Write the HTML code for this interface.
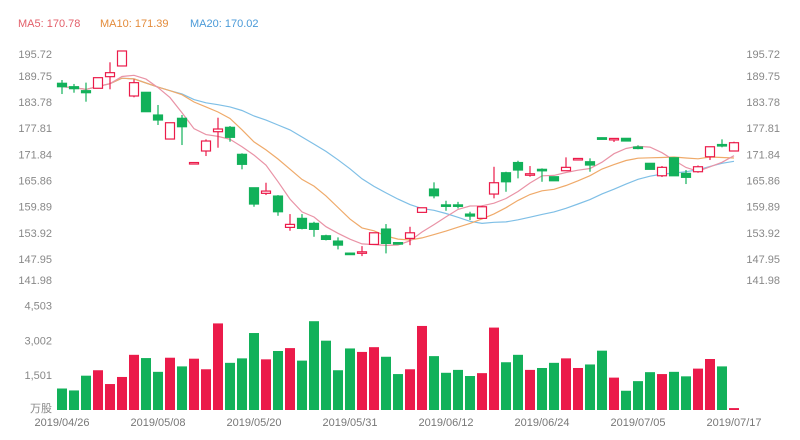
<!DOCTYPE html>
<html><head><meta charset="utf-8">
<style>
html,body{margin:0;padding:0;background:#fff;}
svg{display:block;font-family:"Liberation Sans","Noto Sans CJK SC",sans-serif;}
</style></head>
<body>
<svg id="chart" width="800" height="440" viewBox="0 0 800 440" xmlns="http://www.w3.org/2000/svg">
<g font-size="11">
<text x="18" y="27" fill="#e35f6a">MA5: 170.78</text>
<text x="100" y="27" fill="#e38b3a">MA10: 171.39</text>
<text x="190" y="27" fill="#4a9ad8">MA20: 170.02</text>
</g>
<g id="priceAxes"></g>
<g id="maLines"></g>
<g id="candles"></g>
<g id="volAxis"></g>
<g id="volBars"></g>
<g id="dateAxis"></g>
</svg>
<script>
const opens=[188.05,187.27,186.36,186.91,189.56,192.0,185.15,185.99,180.81,175.33,180.06,169.88,172.6,177.0,178.0,171.84,164.21,162.94,162.32,155.17,157.23,156.09,153.26,152.05,149.3,149.47,151.29,154.79,151.7,152.66,158.6,163.92,160.31,160.31,158.21,157.23,162.78,167.64,169.97,167.27,168.42,166.73,168.1,170.77,170.15,175.63,175.33,175.49,173.51,169.79,166.95,171.06,167.5,167.87,171.29,174.08,172.6];
const closes=[187.27,186.82,185.9,189.33,190.47,195.42,188.19,181.57,179.67,179.05,178.14,169.97,174.88,177.62,175.72,169.56,160.5,163.46,158.74,155.86,154.95,154.72,152.43,151.13,149.17,149.6,153.94,151.52,151.59,153.94,159.65,162.39,160.22,160.22,157.75,159.88,165.36,165.58,168.26,167.41,168.1,165.81,168.87,170.9,169.4,175.26,175.47,174.88,173.37,168.42,168.87,166.95,166.59,169.01,173.57,173.96,174.49];
const highs=[188.8,187.9,188.2,189.33,192.84,195.42,188.96,185.99,183.1,179.05,180.81,170.0,175.26,180.2,178.3,172.07,164.21,165.36,162.55,158.21,158.21,156.45,153.5,152.89,149.4,150.9,153.94,155.93,151.8,155.31,159.65,165.45,161.25,161.0,158.74,160.1,169.0,167.87,170.38,169.17,168.64,166.73,171.15,171.0,170.93,175.7,175.5,175.5,173.9,169.79,169.17,171.06,168.26,169.3,173.57,175.26,174.72];
const lows=[185.6,185.9,183.85,186.91,186.68,192.0,184.85,181.57,178.53,175.33,173.96,169.85,171.45,173.35,174.72,168.42,159.88,162.55,157.82,154.4,154.72,153.03,152.2,150.15,149.1,148.62,151.29,149.24,151.5,151.11,158.6,161.8,158.96,159.5,156.84,157.23,161.8,163.3,166.36,166.73,165.58,165.81,168.1,170.7,167.87,175.2,174.65,174.88,173.0,168.42,166.66,166.95,165.06,167.64,170.54,173.44,172.6];
const volumes=[927,844,1480,1715,1120,1425,2380,2240,1646,2255,1881,2213,1757,3735,2034,2227,3320,2185,2545,2670,2130,3830,2990,1715,2655,2505,2710,2296,1550,1757,3625,2324,1605,1730,1466,1590,3555,2060,2380,1730,1812,2034,2227,1812,1964,2559,1397,830,1245,1632,1550,1646,1452,1785,2200,1881,83];
const priceTicks=[195.72,189.75,183.78,177.81,171.84,165.86,159.89,153.92,147.95,141.98];
const volTicks=["4,503","3,002","1,501"];
const volTickValues=[4503,3002,1501];
const dateLabels=["2019/04/26","2019/05/08","2019/05/20","2019/05/31","2019/06/12","2019/06/24","2019/07/05","2019/07/17"];
const dateIdx=[0,8,16,24,32,40,48,56];

const NS="http://www.w3.org/2000/svg";
const RED="#eb1b4a",GREEN="#12b15a";
function X(i){return 62+i*12;}
function Y(p){return 102-(p-183.78)*4.383;}
function VY(v){return 410-v/1501*34.8;}
function mk(tag,attrs,parent){const e=document.createElementNS(NS,tag);for(const k in attrs)e.setAttribute(k,attrs[k]);parent.appendChild(e);return e;}

const pa=document.getElementById('priceAxes');
priceTicks.forEach((t,i)=>{
  let y=Y(t)+4; if(i===0)y=58; if(i===priceTicks.length-1)y=284;
  const l=mk('text',{x:52,y:y,'text-anchor':'end','font-size':11,fill:'#888'},pa);
  
  
  l.textContent=t.toFixed(2);
  const r=mk('text',{x:780,y:y,'text-anchor':'end','font-size':11,fill:'#888'},pa);
  
  
  r.textContent=t.toFixed(2);
});

function ma(n){return closes.map((c,i)=>{const s=Math.max(0,i-n+1);let sum=0;for(let j=s;j<=i;j++)sum+=closes[j];return sum/(i-s+1);});}
const ml=document.getElementById('maLines');
[[20,'#7fbfe6','ma20-line'],[10,'#efaa6a','ma10-line'],[5,'#e993a6','ma5-line']].forEach(([n,c,name])=>{
  const v=ma(n);
  const p=mk('polyline',{points:v.map((m,i)=>X(i)+','+Y(m).toFixed(1)).join(' '),fill:'none',stroke:c,'stroke-width':1.2},ml);
  
  
});

const cg=document.getElementById('candles');
opens.forEach((o,i)=>{
  const c=closes[i],up=c>=o,col=up?RED:GREEN,x=X(i);
  const g=mk('g',{},cg);
  
  
  mk('line',{x1:x,x2:x,y1:Y(highs[i]),y2:Y(lows[i]),stroke:col,'stroke-width':1.2},g);
  const top=Y(Math.max(o,c)),h=Math.max(1.5,Math.abs(Y(o)-Y(c)));
  mk('rect',{x:x-4.5,y:top,width:9,height:h,fill:up?'#fff':col,stroke:col,'stroke-width':1.2},g);
});

const va=document.getElementById('volAxis');
volTicks.forEach((t,i)=>{
  const l=mk('text',{x:52,y:VY(volTickValues[i])+4,'text-anchor':'end','font-size':11,fill:'#888'},va);
  
  
  l.textContent=t;
});
const u=mk('text',{x:52,y:412,'text-anchor':'end','font-size':11,fill:'#888'},va);


u.textContent='万股';

const vb=document.getElementById('volBars');
volumes.forEach((v,i)=>{
  const up=closes[i]>=opens[i];
  const r=mk('rect',{x:X(i)-5,y:VY(v),width:10,height:410-VY(v),fill:up?RED:GREEN},vb);
  
  
});

const da=document.getElementById('dateAxis');
dateLabels.forEach((d,i)=>{
  const t=mk('text',{x:X(dateIdx[i]),y:426,'text-anchor':'middle','font-size':11,fill:'#777'},da);
  
  
  t.textContent=d;
});
</script>
</body></html>
